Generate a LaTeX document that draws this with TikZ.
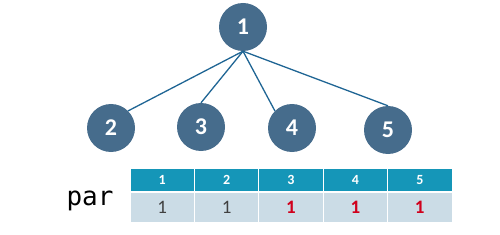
\documentclass[tikz,border=0pt]{standalone}
\usepackage{fontspec}
\setmainfont{Carlito}
\newfontfamily\monof{DejaVu Sans Mono}
\definecolor{nodeblue}{HTML}{466C8C}
\definecolor{edgeblue}{HTML}{1F6594}
\definecolor{headblue}{HTML}{1596B8}
\definecolor{cellblue}{HTML}{CBDCE6}
\definecolor{darktxt}{HTML}{404040}
\definecolor{redtxt}{HTML}{D0001C}
\begin{document}
\begin{tikzpicture}[x=1pt,y=-1pt,
  treenode/.style={circle,fill=nodeblue,minimum size=48pt,inner sep=0pt,text=white,font=\fontsize{24}{26}\selectfont\bfseries},
  edge/.style={draw=edgeblue,line width=1.3pt},
  headcell/.style={rectangle,fill=headblue,minimum width=63.4pt,minimum height=22pt,inner sep=0pt,text=white,font=\fontsize{14}{16}\selectfont\bfseries},
  datacell/.style={rectangle,fill=cellblue,minimum width=63.4pt,minimum height=29pt,inner sep=0pt,font=\fontsize{19}{21}\selectfont},
  normval/.style={text=darktxt},
  redval/.style={text=redtxt,font=\fontsize{19}{21}\selectfont\bfseries}]
\useasboundingbox (0,0) rectangle (500,235);
\node[treenode] (n1) at (243,27) {1};
\node[treenode] (n2) at (111,128) {2};
\node[treenode] (n3) at (201,127) {3};
\node[treenode] (n4) at (292,128) {4};
\node[treenode] (n5) at (388,130) {5};
\draw[edge] (n1.south) -- (n2.north east);
\draw[edge] (n1.south) -- (n3.north);
\draw[edge] (n1.south) -- (n4.north west);
\draw[edge] (n1.south) -- (n5.north);
\foreach \i/\v/\s in {1/1/normval,2/1/normval,3/1/redval,4/1/redval,5/1/redval}{
  \node[headcell] (h\i) at ({130+64.4*(\i-1)+32.2},180) {\i};
  \node[datacell,\s] (d\i) at ({130+64.4*(\i-1)+32.2},207.5) {\v};
}
\node[font=\monof\fontsize{26}{28}\selectfont,anchor=base] (par) at (90,205) {par};
\end{tikzpicture}
\end{document}
